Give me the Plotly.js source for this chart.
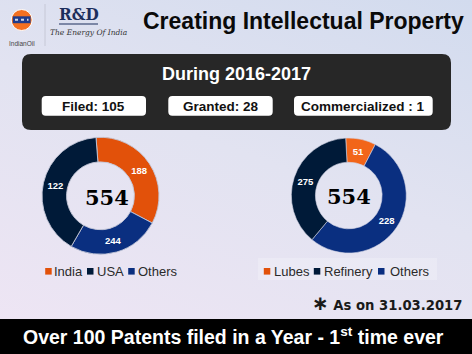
<!DOCTYPE html>
<html><head><meta charset="utf-8">
<script src="https://cdn.plot.ly/plotly-3.0.1.min.js"></script>
<style>
html,body{margin:0;padding:0;width:472px;height:354px;overflow:hidden;}
body{background:linear-gradient(200deg,#d2dbee 0%,#e2e3f1 45%,#efe5f4 100%);}
#chart{width:472px;height:354px;}
</style></head><body><div id="chart"></div>
<script>
// ---------- data ----------
const summaryTitle = 'During 2016-2017';
const summaryLabels = ['Filed: 105', 'Granted: 28', 'Commercialized : 1'];

// Patents by country (clockwise from top)
const originLabels = ['India', 'Others', 'USA'];
const originPrinted = [188, 244, 122];     // numbers printed on slices
const originSliceSize = [188, 142, 224];   // slice sizes as drawn
const originColors = ['#E2510A', '#0A2F80', '#001A38'];
const originLegend = ['India', 'USA', 'Others'];
const originLegendColors = ['#E2510A', '#001A38', '#0A2F80'];

// Patents by business (clockwise from top)
const businessLabels = ['Lubes', 'Others', 'Refinery'];
const businessPrinted = [51, 228, 275];
const businessSliceSize = [47, 296, 211];
const businessColors = ['#F26519', '#0A2F80', '#001A38'];
const businessLegend = ['Lubes', 'Refinery', 'Others'];
const businessLegendColors = ['#E2510A', '#001A38', '#0A2F80'];

const W = 472, H = 354;
const X = p => p / W, Y = p => 1 - p / H;
const sum = a => a.reduce((s, v) => s + v, 0);

function donut(labels, sizes, printed, colors, cx, cy, r, rot, lineColor) {
  return {
    type: 'pie', labels: labels, values: sizes, text: printed.map(String),
    texttemplate: '<b>%{text}</b>', textinfo: 'text', hoverinfo: 'skip',
    sort: false, direction: 'clockwise', rotation: rot, hole: 0.58,
    marker: {colors: colors, line: {color: lineColor, width: 1}},
    textposition: 'inside', insidetextorientation: 'horizontal',
    textfont: {family: 'Liberation Sans, Arial, sans-serif', size: 9.5, color: '#ffffff'},
    domain: {x: [X(cx - r), X(cx + r)], y: [Y(cy + r), Y(cy - r)]},
    showlegend: false
  };
}

const traces = [
  donut(originLabels, originSliceSize, originPrinted, originColors, 100.5, 195.8, 58.5, -4.4, 'rgba(195,198,215,0.9)'),
  donut(businessLabels, businessSliceSize, businessPrinted, businessColors, 348.8, 195.5, 57.5, -3.1, 'rgba(210,212,228,0.6)')
];

const shapes = [];
const ann = [];
function rrect(x0, y0, x1, y1, r, fill) {
  const p = (x, y) => X(x) + ',' + Y(y);
  const path = 'M' + p(x0 + r, y0) + ' L' + p(x1 - r, y0) + ' Q' + p(x1, y0) + ' ' + p(x1, y0 + r) +
    ' L' + p(x1, y1 - r) + ' Q' + p(x1, y1) + ' ' + p(x1 - r, y1) + ' L' + p(x0 + r, y1) +
    ' Q' + p(x0, y1) + ' ' + p(x0, y1 - r) + ' L' + p(x0, y0 + r) + ' Q' + p(x0, y0) + ' ' + p(x0 + r, y0) + ' Z';
  shapes.push({type: 'path', xref: 'paper', yref: 'paper', path: path, fillcolor: fill, line: {width: 0}, layer: 'below'});
}
function rect(x0, y0, x1, y1, fill, layer) {
  shapes.push({type: 'rect', xref: 'paper', yref: 'paper', x0: X(x0), x1: X(x1), y0: Y(y1), y1: Y(y0),
    fillcolor: fill, line: {width: 0}, layer: layer || 'below'});
}
function text(t, x, y, size, color, opts) {
  opts = opts || {};
  ann.push(Object.assign({xref: 'paper', yref: 'paper', x: X(x), y: Y(y), text: t, showarrow: false,
    xanchor: 'center', yanchor: 'middle', borderpad: 0,
    font: {family: 'Liberation Sans, Arial, sans-serif', size: size, color: color}}, opts));
}

// header logos
shapes.push({type: 'circle', xref: 'paper', yref: 'paper', x0: X(11.2), x1: X(32.2), y0: Y(30.5), y1: Y(9.5),
  fillcolor: '#F37021', line: {color: '#ffffff', width: 1}});
rect(12.8, 16.3, 30.6, 23.2, '#1F3C8C', 'above');
shapes.push({type: 'line', xref: 'paper', yref: 'paper', x0: X(15), x1: X(28.5), y0: Y(19.8), y1: Y(19.8),
  line: {color: 'rgba(255,255,255,0.8)', width: 2, dash: 'dot'}});
text('IndianOil', 21.7, 44, 6.5, '#444444');
shapes.push({type: 'line', xref: 'paper', yref: 'paper', x0: X(45), x1: X(45), y0: Y(46), y1: Y(4),
  line: {color: '#c6c8d6', width: 1}});
text('<b>R&amp;D</b>', 78.5, 14, 17, '#1C2E5C', {font: {family: 'DejaVu Serif Condensed, DejaVu Serif, serif', size: 17, color: '#1C2E5C'}});
shapes.push({type: 'line', xref: 'paper', yref: 'paper', x0: X(59), x1: X(98), y0: Y(24), y1: Y(24),
  line: {color: '#1C2E5C', width: 1.2}});
text('<i>The Energy Of India</i>', 88.5, 32.5, 7.5, '#333333', {font: {family: 'DejaVu Serif, serif', size: 7.5, color: '#333333'}});

// title
text('<b>Creating Intellectual Property</b>', 142, 21, 23, '#0a0a0a', {xanchor: 'left'});

// summary panel
rrect(22, 54, 451, 130, 9, '#272727');
text('<b>' + summaryTitle + '</b>', 236, 74.3, 18, '#ffffff');
const boxes = [[41.7, 146], [168.3, 272.7], [294, 432.7]];
boxes.forEach((b, i) => {
  rrect(b[0], 96, b[1], 115.7, 4, '#ffffff');
  text('<b>' + summaryLabels[i] + '</b>', (b[0] + b[1]) / 2, 106.3, 13.5, '#111111');
});

// centre totals
const cFont = {family: 'DejaVu Serif, serif', size: 21, color: '#000000'};
text('<b>' + sum(originPrinted) + '</b>', 106.7, 197, 21, '#000', {font: cFont});
text('<b>' + sum(businessPrinted) + '</b>', 349.3, 196, 21, '#000', {font: cFont});

// legends
function legend(names, colors, sqX, txX, yc) {
  names.forEach((n, i) => {
    rect(sqX[i], yc - 3.3, sqX[i] + 6.5, yc + 3.3, colors[i], 'above');
    text(n, txX[i], yc, 13, '#2a2a2a', {xanchor: 'left'});
  });
}
rect(258, 258, 437, 280, 'rgba(255,255,255,0.22)');
legend(originLegend, originLegendColors, [45.2, 87, 128.2], [53.3, 95.5, 137.3], 271.3);
legend(businessLegend, businessLegendColors, [263.8, 313.8, 378], [273, 322.5, 389.3], 271.3);

// footnote
text('<b><span style="font-size:20px">&#8727;</span> As on 31.03.2017</b>', 463, 302.5, 13.2, '#1a1a1a',
  {xanchor: 'right', font: {family: 'DejaVu Sans, sans-serif', size: 13.2, color: '#1a1a1a'}});

// bottom bar
rect(0, 319, 472, 354, '#000000');
text('<b>Over 100 Patents filed in a Year - 1<sup>st</sup> time ever</b>', 233.5, 335.5, 19.5, '#ffffff');

Plotly.newPlot('chart', traces, {
  width: W, height: H, margin: {l: 0, r: 0, t: 0, b: 0},
  paper_bgcolor: 'rgba(0,0,0,0)', plot_bgcolor: 'rgba(0,0,0,0)',
  shapes: shapes, annotations: ann, showlegend: false
}, {staticPlot: true, displayModeBar: false});
</script></body></html>
